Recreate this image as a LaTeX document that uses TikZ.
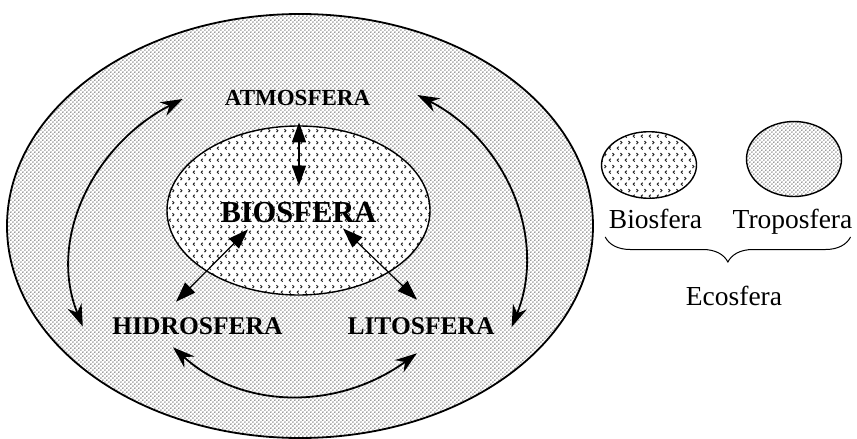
\documentclass[tikz,border=0pt]{standalone}
\usepackage{fontspec}
\setmainfont{Liberation Serif}
\usetikzlibrary{arrows.meta,patterns,decorations.pathreplacing}

% fine dots (troposfera)
\pgfdeclarepatternformonly{ecoDots}{\pgfqpoint{0pt}{0pt}}{\pgfqpoint{4.4pt}{4.4pt}}{\pgfqpoint{4.4pt}{4.4pt}}{%
  \pgfpathcircle{\pgfqpoint{1.1pt}{1.1pt}}{0.8pt}%
  \pgfpathcircle{\pgfqpoint{3.3pt}{3.3pt}}{0.8pt}%
  \pgfusepath{fill}}
% small chevrons (biosfera)
\pgfdeclarepatternformonly{bioMarks}{\pgfqpoint{0pt}{0pt}}{\pgfqpoint{8pt}{12pt}}{\pgfqpoint{8pt}{12pt}}{%
  \pgfsetlinewidth{1.1pt}%
  \pgfpathmoveto{\pgfqpoint{3.0pt}{4.6pt}}\pgfpathlineto{\pgfqpoint{1.4pt}{3pt}}\pgfpathlineto{\pgfqpoint{3.0pt}{1.4pt}}%
  \pgfpathmoveto{\pgfqpoint{5.0pt}{10.6pt}}\pgfpathlineto{\pgfqpoint{6.6pt}{9pt}}\pgfpathlineto{\pgfqpoint{5.0pt}{7.4pt}}%
  \pgfusepath{stroke}}

\begin{document}
\begin{tikzpicture}[x=1pt,y=-1pt,
    geoLabel/.style={font=\bfseries\fontsize{#1}{#1}\selectfont,inner sep=0pt},
    legLabel/.style={font=\fontsize{27.5}{27.5}\selectfont,inner sep=0pt,anchor=base},
    geoArrowS/.style={{Triangle[length=20pt,width=14pt]}-{Triangle[length=20pt,width=14pt]},line width=1.2pt},
    geoArrowC/.style={{Stealth[length=22pt,width=15pt]}-{Stealth[length=22pt,width=15pt]},line width=1.8pt},
]
\useasboundingbox (0,0) rectangle (857,439);
% ecosfera
\draw[line width=1.8pt,pattern=ecoDots,pattern color=black!80] (300,226) ellipse [x radius=293pt,y radius=212pt];
\fill[white] (298.5,210.5) ellipse [x radius=131.5pt,y radius=84.5pt];
\draw[line width=1.4pt,pattern=bioMarks,pattern color=black!85] (298.5,210.5) ellipse [x radius=131.5pt,y radius=84.5pt];

\node[geoLabel=23] (ATM) at (297.5,98) {ATMOSFERA};
\node[geoLabel=30.5] (BIO) at (298.5,213) {BIOSFERA};
\node[geoLabel=25.5] (HID) at (197.5,326.5) {HIDROSFERA};
\node[geoLabel=25.5] (LIT) at (421,326) {LITOSFERA};

\draw[geoArrowS] ([xshift=1.5pt,yshift=-16.4pt]ATM.south) -- ([xshift=0.5pt,yshift=17pt]BIO.north);
\draw[geoArrowS] ([xshift=-50.5pt,yshift=-6pt]BIO.south) -- ([xshift=-21.5pt,yshift=16pt]HID.north);
\draw[geoArrowS] ([xshift=44.5pt,yshift=-5pt]BIO.south) -- ([xshift=-4pt,yshift=17.5pt]LIT.north);

\draw[geoArrowC] ([xshift=-42pt,yshift=-1pt]ATM.west) to[out=207,in=112] ([xshift=-29.5pt]HID.west);
\draw[geoArrowC] ([xshift=47pt,yshift=3pt]ATM.east) to[out=-27,in=68] ([xshift=17pt,yshift=-1pt]LIT.east);
\draw[geoArrowC] ([xshift=-24.5pt,yshift=-12pt]HID.south) to[out=-42,in=216] ([xshift=-4pt,yshift=-18.5pt]LIT.south);

% legend
\draw[line width=1.4pt,pattern=bioMarks,pattern color=black!85] (649,165) ellipse [x radius=47.5pt,y radius=33.3pt];
\draw[line width=1.4pt,pattern=ecoDots,pattern color=black!80] (794,159) ellipse [x radius=47.5pt,y radius=37.5pt];
\node[legLabel] (bioLbl) at (655.5,228) {Biosfera};
\node[legLabel] (tropLbl) at (792.5,228) {Troposfera};
\draw[decorate,decoration={brace,amplitude=25pt,mirror},line width=1pt]
    ([xshift=-3.5pt,yshift=-9pt]bioLbl.base west) -- ([xshift=-2pt,yshift=-9pt]tropLbl.base east);
\node[legLabel] (ecoLbl) at (734,305) {Ecosfera};
\end{tikzpicture}
\end{document}
